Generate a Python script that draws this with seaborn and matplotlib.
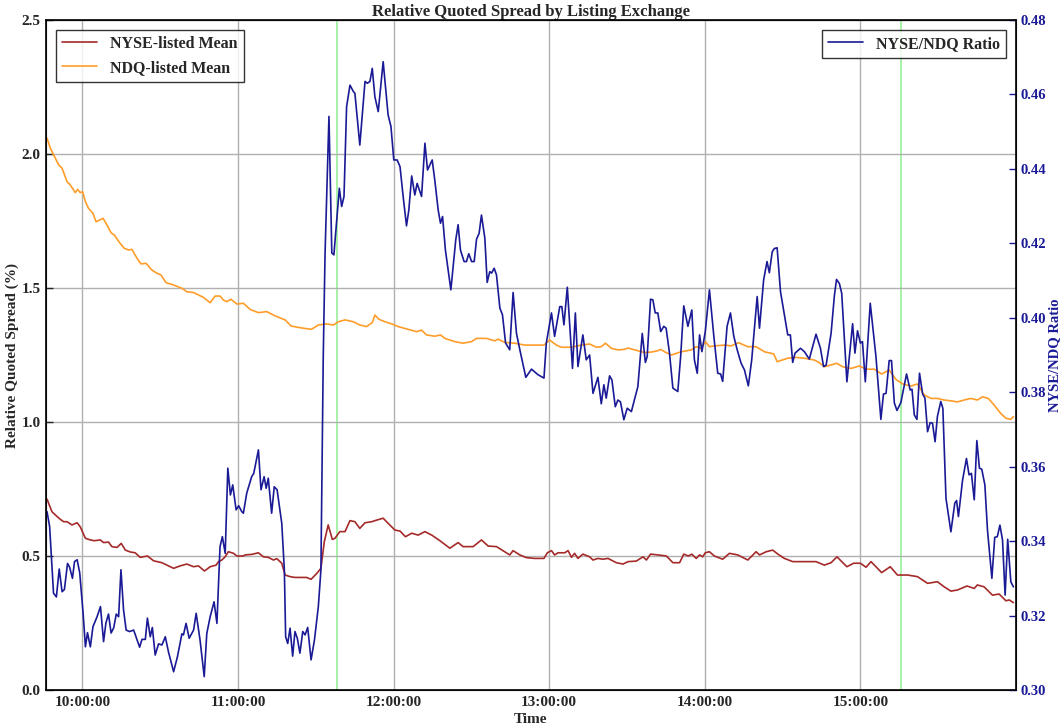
import matplotlib
matplotlib.use("Agg")
import matplotlib.pyplot as plt
import matplotlib.ticker as mticker
import seaborn as sns
import pandas as pd

# times are minutes after midnight
nyse_time = [586.4, 588.3, 590.3, 591.5, 592.8, 594.1, 596.0, 598.0, 599.2, 601.2, 603.1, 604.6, 606.9,
             608.2, 610.1, 611.4, 613.4, 615.0, 616.6, 618.5, 620.4, 622.3, 625.1, 627.5, 630.7, 632.6,
             635.2, 637.7, 640.3, 642.9, 644.8, 647.1, 649.3, 651.6, 652.5, 653.8, 655.1, 656.3, 658.3,
             659.6, 662.1, 662.8, 665.3, 667.9, 669.8, 671.7, 673.7, 675.0, 676.9, 678.2, 680.1, 682.0,
             684.6, 686.5, 688.2, 690.4, 692.0, 693.3, 694.8, 696.4, 697.4, 699.3, 701.3, 703.2, 705.1,
             707.0, 709.0, 711.6, 713.5, 716.0, 717.9, 720.5, 722.5, 724.6, 727.0, 729.5, 732.1, 734.7,
             737.9, 741.7, 744.9, 746.8, 750.7, 753.9, 756.5, 759.7, 762.2, 764.8, 766.1, 768.7, 771.2,
             774.4, 778.0, 779.3, 780.9, 782.1, 783.4, 786.0, 787.3, 788.6, 789.8, 791.1, 793.0, 795.6,
             796.9, 798.8, 800.7, 802.7, 805.9, 808.5, 810.4, 813.6, 816.2, 817.5, 819.1, 821.9, 825.2,
             827.7, 830.3, 831.9, 833.7, 835.0, 836.7, 838.0, 839.2, 840.2, 841.8, 843.7, 846.9, 849.5,
             852.7, 856.6, 859.8, 861.1, 863.7, 866.2, 868.2, 870.7, 873.9, 878.4, 882.9, 886.1, 888.7,
             891.0, 892.8, 894.8, 897.4, 900.0, 902.2, 904.1, 906.0, 908.2, 911.5, 914.3, 918.2, 922.0,
             925.9, 929.7, 932.3, 934.9, 937.4, 941.1, 943.9, 945.1, 947.7, 950.9, 953.5, 956.1, 957.4,
             959.0]
nyse_mean = [0.712, 0.665, 0.647, 0.637, 0.628, 0.628, 0.616, 0.624, 0.609, 0.566, 0.560, 0.557, 0.560,
             0.550, 0.552, 0.535, 0.532, 0.547, 0.522, 0.515, 0.512, 0.495, 0.500, 0.482, 0.475, 0.466,
             0.454, 0.463, 0.470, 0.460, 0.463, 0.444, 0.460, 0.466, 0.479, 0.485, 0.497, 0.516, 0.510,
             0.500, 0.500, 0.504, 0.506, 0.512, 0.497, 0.495, 0.485, 0.490, 0.473, 0.429, 0.423, 0.420,
             0.420, 0.420, 0.413, 0.435, 0.454, 0.553, 0.616, 0.562, 0.566, 0.591, 0.591, 0.632, 0.628,
             0.603, 0.624, 0.628, 0.634, 0.641, 0.622, 0.597, 0.593, 0.572, 0.585, 0.578, 0.591, 0.578,
             0.557, 0.529, 0.550, 0.535, 0.535, 0.560, 0.537, 0.535, 0.520, 0.504, 0.520, 0.504, 0.494,
             0.491, 0.491, 0.512, 0.520, 0.504, 0.512, 0.512, 0.520, 0.495, 0.510, 0.491, 0.507, 0.497,
             0.485, 0.491, 0.488, 0.491, 0.475, 0.470, 0.479, 0.481, 0.497, 0.485, 0.507, 0.504, 0.500,
             0.475, 0.475, 0.507, 0.500, 0.507, 0.491, 0.504, 0.497, 0.512, 0.516, 0.500, 0.488, 0.510,
             0.504, 0.485, 0.516, 0.504, 0.516, 0.522, 0.507, 0.491, 0.479, 0.479, 0.479, 0.466, 0.475,
             0.497, 0.479, 0.460, 0.473, 0.473, 0.458, 0.479, 0.460, 0.438, 0.460, 0.429, 0.429, 0.423,
             0.398, 0.404, 0.385, 0.369, 0.373, 0.388, 0.379, 0.392, 0.385, 0.354, 0.358, 0.333, 0.336,
             0.326]

ndq_time = [586.4, 587.7, 589.6, 590.9, 592.2, 594.1, 595.4, 597.3, 598.2, 599.2, 600.1, 601.2, 602.4,
            604.1, 605.3, 606.7, 608.0, 609.5, 611.1, 612.3, 614.4, 616.2, 617.8, 619.1, 621.1, 622.6,
            624.6, 626.8, 628.8, 630.3, 632.3, 635.2, 638.4, 640.3, 642.9, 646.7, 649.3, 651.2, 653.1,
            654.4, 655.7, 657.3, 659.6, 662.1, 664.7, 667.9, 671.1, 674.3, 678.2, 680.5, 683.3, 685.9,
            688.4, 691.0, 694.2, 696.8, 698.7, 701.3, 704.5, 707.0, 709.6, 711.8, 712.8, 714.4, 716.7,
            719.3, 721.8, 725.6, 728.9, 730.8, 732.7, 735.9, 738.1, 739.8, 743.6, 746.8, 750.1, 752.0,
            755.8, 759.0, 760.3, 762.9, 766.7, 770.6, 774.4, 778.0, 780.2, 782.8, 784.7, 788.6, 792.4,
            795.6, 798.2, 800.1, 801.7, 804.0, 806.5, 809.1, 810.4, 814.2, 816.8, 819.4, 821.9, 823.0,
            824.5, 827.1, 830.9, 834.8, 836.7, 838.6, 840.2, 841.8, 843.7, 847.6, 850.2, 853.0, 856.6,
            859.8, 863.0, 866.6, 867.9, 872.0, 875.2, 878.4, 882.3, 884.2, 886.1, 888.7, 890.9, 893.2,
            896.4, 899.6, 902.2, 905.4, 908.2, 911.1, 913.7, 916.3, 919.5, 922.0, 924.6, 927.2, 929.7,
            932.3, 934.9, 937.4, 940.0, 942.6, 945.1, 947.1, 949.3, 951.6, 954.1, 956.1, 958.0, 959.0]
ndq_mean = [2.059, 2.021, 1.984, 1.959, 1.947, 1.897, 1.884, 1.856, 1.868, 1.856, 1.859, 1.822, 1.797,
            1.779, 1.747, 1.754, 1.760, 1.735, 1.706, 1.698, 1.669, 1.648, 1.642, 1.644, 1.611, 1.590,
            1.592, 1.567, 1.555, 1.549, 1.520, 1.511, 1.499, 1.486, 1.483, 1.465, 1.445, 1.470, 1.470,
            1.455, 1.449, 1.458, 1.440, 1.443, 1.420, 1.408, 1.412, 1.396, 1.381, 1.358, 1.353, 1.349,
            1.346, 1.362, 1.366, 1.362, 1.374, 1.381, 1.374, 1.362, 1.356, 1.371, 1.399, 1.383, 1.374,
            1.366, 1.356, 1.346, 1.337, 1.343, 1.325, 1.320, 1.325, 1.312, 1.300, 1.294, 1.300, 1.312,
            1.312, 1.303, 1.309, 1.297, 1.294, 1.287, 1.287, 1.287, 1.306, 1.287, 1.279, 1.279, 1.287,
            1.291, 1.279, 1.281, 1.294, 1.275, 1.269, 1.271, 1.276, 1.266, 1.259, 1.261, 1.266, 1.271,
            1.262, 1.250, 1.262, 1.269, 1.281, 1.275, 1.300, 1.281, 1.284, 1.287, 1.284, 1.296, 1.281,
            1.281, 1.262, 1.254, 1.225, 1.238, 1.241, 1.238, 1.231, 1.221, 1.206, 1.213, 1.219, 1.206,
            1.200, 1.209, 1.197, 1.197, 1.179, 1.194, 1.159, 1.142, 1.134, 1.142, 1.101, 1.088, 1.088,
            1.082, 1.079, 1.075, 1.082, 1.088, 1.082, 1.094, 1.088, 1.063, 1.032, 1.014, 1.010, 1.020]

ratio_time = [586.4, 587.4, 588.9, 590.0, 591.1, 592.2, 593.1, 594.3, 595.1, 596.2, 597.0, 598.0, 599.0,
              600.3, 601.2, 602.0, 603.1, 604.1, 605.7, 607.0, 608.2, 609.1, 610.1, 611.1, 612.1, 613.1,
              614.0, 614.9, 615.9, 616.9, 618.2, 619.8, 622.1, 623.0, 624.3, 625.1, 626.2, 627.0, 628.1,
              629.4, 630.7, 632.0, 633.2, 635.2, 636.7, 638.4, 639.0, 640.0, 641.2, 642.9, 643.9, 645.4,
              647.0, 648.0, 649.3, 650.8, 651.9, 653.1, 654.0, 655.1, 656.1, 657.1, 658.0, 659.3, 660.3,
              661.5, 662.1, 663.4, 665.3, 666.1, 667.9, 668.9, 670.1, 670.9, 671.7, 673.0, 674.0, 675.1,
              676.9, 677.9, 678.4, 679.2, 680.1, 681.1, 682.0, 682.9, 683.9, 685.0, 685.9, 686.9, 688.2,
              689.5, 691.0, 692.0, 692.9, 693.6, 695.1, 696.2, 697.0, 699.1, 700.0, 700.9, 701.9, 703.2,
              704.5, 705.1, 707.0, 709.0, 709.9, 710.9, 711.8, 712.8, 714.1, 716.0, 717.9, 719.0, 720.1,
              721.4, 722.5, 723.7, 725.0, 725.9, 727.0, 728.2, 729.1, 730.8, 732.1, 733.1, 734.9, 735.9,
              737.2, 738.1, 738.9, 740.0, 742.1, 744.0, 744.9, 745.8, 747.2, 748.1, 749.0, 750.1, 751.1,
              752.0, 753.0, 753.9, 755.2, 756.1, 757.1, 757.8, 758.8, 759.7, 761.0, 762.0, 763.2, 764.8,
              766.1, 767.4, 768.7, 771.0, 773.2, 775.7, 778.0, 778.9, 780.9, 782.1, 784.1, 784.9, 785.7,
              787.0, 789.0, 790.1, 791.1, 793.0, 794.3, 795.6, 796.9, 798.8, 800.1, 801.1, 802.0, 803.3,
              804.2, 805.5, 806.5, 807.5, 808.8, 810.1, 811.7, 813.2, 814.2, 815.9, 817.1, 817.8, 819.1,
              820.0, 820.9, 821.9, 823.0, 824.2, 825.1, 826.4, 827.7, 829.6, 830.7, 831.9, 833.5, 835.0,
              836.0, 837.1, 838.0, 838.9, 840.2, 841.8, 843.5, 845.0, 846.1, 846.9, 848.6, 849.9, 851.2,
              852.5, 854.0, 855.3, 856.8, 858.1, 859.1, 860.2, 861.1, 862.7, 864.0, 864.9, 866.0, 866.8,
              867.9, 869.2, 870.4, 872.0, 873.0, 873.9, 874.8, 876.9, 878.4, 880.3, 882.9, 884.6, 885.8,
              886.8, 888.7, 890.0, 890.8, 891.9, 892.8, 894.8, 897.0, 897.9, 898.9, 900.0, 900.8, 901.9,
              903.8, 906.0, 907.9, 908.9, 909.9, 911.1, 912.0, 913.1, 914.1, 915.6, 917.8, 919.2, 919.9,
              920.8, 921.8, 922.8, 924.0, 924.9, 925.9, 926.9, 927.8, 928.8, 929.7, 931.0, 931.8, 933.0,
              934.9, 936.4, 937.1, 937.8, 939.4, 940.9, 941.9, 942.8, 943.9, 944.9, 945.9, 946.8, 948.0,
              949.0, 950.7, 951.8, 952.8, 953.8, 954.8, 955.8, 956.8, 958.0, 959.0]
ratio = [0.3479, 0.3439, 0.3260, 0.3250, 0.3325, 0.3264, 0.3270, 0.3340, 0.3330, 0.3300, 0.3345, 0.3350,
         0.3315, 0.3207, 0.3116, 0.3154, 0.3116, 0.3170, 0.3197, 0.3224, 0.3130, 0.3180, 0.3204, 0.3153,
         0.3167, 0.3204, 0.3197, 0.3323, 0.3215, 0.3161, 0.3157, 0.3161, 0.3115, 0.3136, 0.3136, 0.3193,
         0.3143, 0.3168, 0.3094, 0.3124, 0.3121, 0.3143, 0.3103, 0.3049, 0.3090, 0.3151, 0.3148, 0.3179,
         0.3139, 0.3161, 0.3206, 0.3134, 0.3036, 0.3152, 0.3197, 0.3237, 0.3179, 0.3385, 0.3412, 0.3367,
         0.3596, 0.3524, 0.3551, 0.3484, 0.3495, 0.3479, 0.3475, 0.3529, 0.3573, 0.3582, 0.3645, 0.3538,
         0.3573, 0.3542, 0.3569, 0.3475, 0.3546, 0.3538, 0.3448, 0.3323, 0.3143, 0.3125, 0.3166, 0.3091,
         0.3157, 0.3139, 0.3099, 0.3157, 0.3148, 0.3168, 0.3081, 0.3134, 0.3224, 0.3323, 0.3896, 0.4174,
         0.4541, 0.4174, 0.4169, 0.4348, 0.4299, 0.4326, 0.4567, 0.4625, 0.4608, 0.4603, 0.4464, 0.4635,
         0.4630, 0.4635, 0.4670, 0.4594, 0.4554, 0.4688, 0.4545, 0.4514, 0.4424, 0.4424, 0.4406, 0.4326,
         0.4247, 0.4290, 0.4381, 0.4330, 0.4361, 0.4326, 0.4469, 0.4397, 0.4424, 0.4370, 0.4290, 0.4254,
         0.4272, 0.4182, 0.4075, 0.4210, 0.4250, 0.4182, 0.4151, 0.4151, 0.4172, 0.4151, 0.4151, 0.4211,
         0.4227, 0.4276, 0.4214, 0.4095, 0.4124, 0.4120, 0.4133, 0.4115, 0.4026, 0.4008, 0.3932, 0.3914,
         0.4068, 0.3958, 0.3914, 0.3840, 0.3862, 0.3847, 0.3838, 0.3932, 0.4013, 0.3950, 0.4030, 0.4030,
         0.3981, 0.4082, 0.3864, 0.4013, 0.3869, 0.3954, 0.3887, 0.3900, 0.3797, 0.3840, 0.3769, 0.3820,
         0.3784, 0.3844, 0.3833, 0.3761, 0.3779, 0.3774, 0.3726, 0.3757, 0.3748, 0.3788, 0.3815, 0.3958,
         0.3880, 0.3896, 0.4050, 0.4048, 0.4013, 0.4013, 0.3963, 0.3977, 0.3972, 0.3905, 0.3811, 0.3802,
         0.3896, 0.4032, 0.3977, 0.4021, 0.3887, 0.3851, 0.3954, 0.3909, 0.3963, 0.4075, 0.3950, 0.3851,
         0.3849, 0.3829, 0.3977, 0.4013, 0.3950, 0.3914, 0.3878, 0.3860, 0.3817, 0.3887, 0.3967, 0.4057,
         0.3972, 0.4102, 0.4151, 0.4121, 0.4177, 0.4186, 0.4188, 0.4070, 0.4021, 0.3954, 0.3954, 0.3880,
         0.3905, 0.3918, 0.3909, 0.3889, 0.3956, 0.3918, 0.3869, 0.3873, 0.3958, 0.4061, 0.4103, 0.4092,
         0.4066, 0.3828, 0.3984, 0.3905, 0.3965, 0.3932, 0.3936, 0.3828, 0.4039, 0.3896, 0.3727, 0.3795,
         0.3797, 0.3885, 0.3885, 0.3771, 0.3751, 0.3772, 0.3849, 0.3806, 0.3808, 0.3739, 0.3727, 0.3851,
         0.3795, 0.3784, 0.3694, 0.3718, 0.3717, 0.3667, 0.3735, 0.3775, 0.3757, 0.3515, 0.3425, 0.3502,
         0.3509, 0.3466, 0.3564, 0.3622, 0.3578, 0.3582, 0.3511, 0.3670, 0.3596, 0.3593, 0.3551, 0.3430,
         0.3300, 0.3410, 0.3412, 0.3443, 0.3403, 0.3255, 0.3405, 0.3291, 0.3277]

event_times = [698.1, 915.8]
hour_ticks = [600, 660, 720, 780, 840, 900]

df_nyse = pd.DataFrame({"t": nyse_time, "v": nyse_mean})
df_ndq = pd.DataFrame({"t": ndq_time, "v": ndq_mean})
df_ratio = pd.DataFrame({"t": ratio_time, "v": ratio})

sns.set_style("white")
plt.rcParams['font.family'] = ['Liberation Serif', 'DejaVu Serif']
plt.rcParams['font.weight'] = 'bold'

NAVY = "#1a1a96"

fig = plt.figure(figsize=(10.64, 7.28), dpi=100)
ax = fig.add_axes([46 / 1064, 1 - 690 / 728, 970 / 1064, 670 / 728])
ax2 = ax.twinx()

sns.lineplot(data=df_nyse, x="t", y="v", ax=ax, color="#a52a2a", lw=1.2, label="NYSE-listed Mean")
sns.lineplot(data=df_ndq, x="t", y="v", ax=ax, color="#ff9d2a", lw=1.2, label="NDQ-listed Mean")
sns.lineplot(data=df_ratio, x="t", y="v", ax=ax2, color=NAVY, lw=1.2, label="NYSE/NDQ Ratio")

for et in event_times:
    ax.axvline(et, color="#90ee90", lw=1.1, zorder=0)

ax.set_xlim(586, 960)
ax.set_ylim(0, 2.5)
ax2.set_ylim(0.30, 0.48)
ax.set_xticks(hour_ticks)
ax.xaxis.set_major_formatter(mticker.FuncFormatter(lambda v, p: "%02d:%02d:00" % (int(v) // 60, int(v) % 60)))
ax.set_yticks([0, 0.5, 1.0, 1.5, 2.0, 2.5])
ax.yaxis.set_major_formatter(mticker.FormatStrFormatter("%.1f"))
ax2.set_yticks([0.30, 0.32, 0.34, 0.36, 0.38, 0.40, 0.42, 0.44, 0.46, 0.48])
ax2.yaxis.set_major_formatter(mticker.FormatStrFormatter("%.2f"))

ax.grid(True, color="#b0b0b0", lw=1.0)
ax.set_axisbelow(True)
ax.tick_params(direction="in", length=5, labelsize=11, width=1, pad=4)
ax2.tick_params(direction="in", length=5, labelsize=10.5, width=1, colors=NAVY, pad=3)
for lab in ax.get_xticklabels() + ax.get_yticklabels() + ax2.get_yticklabels():
    lab.set_fontweight("bold")
for sp in ax2.spines.values():
    sp.set_color("black")
    sp.set_linewidth(1.2)

ax.set_xlabel("Time", fontsize=11, fontweight="bold", labelpad=3)
ax.set_ylabel("Relative Quoted Spread (%)", fontsize=11, fontweight="bold", labelpad=2)
ax2.set_ylabel("NYSE/NDQ Ratio", fontsize=10.5, fontweight="bold", color=NAVY, labelpad=2)
ax.set_title("Relative Quoted Spread by Listing Exchange", fontsize=12, fontweight="bold", pad=3)

leg1 = ax.legend(loc="upper left", fancybox=False, edgecolor="black",
                 prop={"weight": "bold", "size": 11.5}, borderaxespad=0.6, handlelength=2.2)
leg1.get_frame().set_linewidth(1.0)
leg2 = ax2.legend(loc="upper right", fancybox=False, edgecolor="black",
                  prop={"weight": "bold", "size": 11.5}, borderaxespad=0.6, handlelength=2.2)
leg2.get_frame().set_linewidth(1.0)

fig.savefig("out.png", dpi=100)
